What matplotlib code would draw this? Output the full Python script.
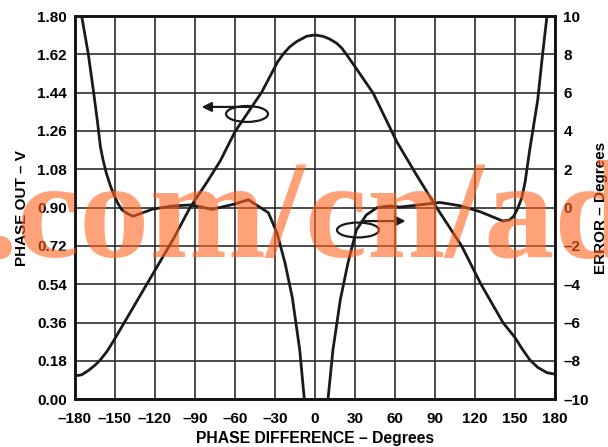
import matplotlib
matplotlib.use('Agg')
import matplotlib.pyplot as plt
from matplotlib.patches import Ellipse

# phase output (left axis, V) vs phase difference (deg)
phase_deg = [-180, -175, -170, -165, -161, -156, -151.5, -136.5, -121.5, -106.5,
             -93.75, -81, -71, -60, -40, -28, -23.75, -19, -13.75, -6.25, 0, 6.25,
             11, 16.25, 20, 23.75, 30, 43.7, 61.3, 75.5, 91.25, 110, 124.5, 141,
             150, 155, 161, 167, 174, 180]
phase_v = [0.11, 0.115, 0.135, 0.16, 0.185, 0.225, 0.27, 0.43, 0.59, 0.75,
           0.90, 1.02, 1.12, 1.257, 1.442, 1.585, 1.622, 1.655, 1.68, 1.705, 1.711, 1.704,
           1.692, 1.672, 1.65, 1.618, 1.562, 1.437, 1.21, 1.06, 0.90, 0.72, 0.54, 0.36,
           0.29, 0.24, 0.186, 0.15, 0.125, 0.118]

# error (right axis, degrees), two branches
err_left_deg = [-178, -175, -170, -166, -163, -161, -159, -156.5, -153.5, -151, -148,
                -145, -141, -136.5, -121.5, -106.5, -94, -86, -77.5, -61.5, -50,
                -35, -28.5, -22.5, -17, -11.5, -8, -7]
err_left = [12, 10, 8.0, 6.0, 4.4, 3.2, 2.5, 1.8, 1.15, 0.7, 0.25,
            -0.1, -0.3, -0.45, -0.07, 0.09, 0.14, 0.05, -0.09, 0.17, 0.41,
            -0.26, -1.32, -2.88, -4.7, -7.4, -10, -11]
err_right_deg = [9, 9.75, 13.5, 19, 24.75, 31, 38.5, 46.5, 56, 63.75, 93.75,
                 108.75, 123.75, 141, 146, 149, 152, 155, 157.5, 161, 164, 167, 171, 174, 176]
err_right = [-11, -10, -7.4, -4.8, -2.88, -1.17, -0.38, 0.0, 0.09, 0.03, 0.27,
             0.1, -0.21, -0.7, -0.64, -0.45, -0.05, 0.5, 1.3, 3.0, 4.3, 5.6, 8.2, 10, 11.3]

x_ticks = list(range(-180, 181, 30))
x_labels = [str(v).replace('-', '\u2013') for v in x_ticks]
v_ticks = [i * 0.18 for i in range(11)]
v_labels = ['%.2f' % v for v in v_ticks]
e_ticks = list(range(-10, 11, 2))
e_labels = [str(v).replace('-', '\u2013') for v in e_ticks]

plt.rcParams['font.family'] = ['Liberation Sans', 'DejaVu Sans']
plt.rcParams['font.weight'] = 'bold'

line_color = '#1a1a1a'
grid_color = '#2e2e2e'

fig = plt.figure(figsize=(6.08, 4.47), dpi=100)
ax = fig.add_axes([75 / 608, (447 - 399.3) / 447, 480 / 608, 383.3 / 447])
ax2 = ax.twinx()

ax.set_xlim(-180, 180)
ax.set_ylim(0, 1.8)
ax2.set_ylim(-10, 10)

ax.set_xticks(x_ticks)
ax.set_xticklabels(x_labels)
ax.set_yticks(v_ticks)
ax.set_yticklabels(v_labels)
ax2.set_yticks(e_ticks)
ax2.set_yticklabels(e_labels)

ax.grid(True, color=grid_color, linewidth=1.2)
ax.set_axisbelow(True)

ax.tick_params(length=0, labelsize=11, pad=6)
ax.tick_params(axis='x', pad=9)
ax2.tick_params(length=0, labelsize=11, pad=6)

for a in (ax, ax2):
    for s in a.spines.values():
        s.set_linewidth(1.8)
        s.set_color('#111111')

ax.plot(phase_deg, phase_v, color=line_color, lw=2.0, zorder=3)
ax2.plot(err_left_deg, err_left, color=line_color, lw=2.0)
ax2.plot(err_right_deg, err_right, color=line_color, lw=2.0)

# pointer ellipses with arrows
ax.add_patch(Ellipse((-51, 1.34), 31.5, 0.075, fill=False, lw=1.6, color=line_color, zorder=4))
ax.annotate('', xy=(-85, 1.373), xytext=(-49, 1.373),
            arrowprops=dict(arrowstyle='-|>', color=line_color, lw=1.6,
                            mutation_scale=14, shrinkA=0, shrinkB=0), zorder=4)
ax.add_patch(Ellipse((32.25, 0.795), 31.5, 0.07, fill=False, lw=1.6, color=line_color, zorder=4))
ax.annotate('', xy=(68, 0.837), xytext=(35, 0.837),
            arrowprops=dict(arrowstyle='-|>', color=line_color, lw=1.6,
                            mutation_scale=14, shrinkA=0, shrinkB=0), zorder=4)

ax.set_xlabel('PHASE DIFFERENCE \u2013 Degrees', fontsize=11.3, fontweight='bold', labelpad=4)
ax.set_ylabel('PHASE OUT \u2013 V', fontsize=11, fontweight='bold', labelpad=6)
ax2.set_ylabel('ERROR \u2013 Degrees', fontsize=11, fontweight='bold', labelpad=4)

# watermark
fig.text(-17 / 608, (447 - 257) / 447, '.com/cn/ad', fontsize=101,
         family='Liberation Serif', fontweight='bold', color='#ff6420', alpha=0.6,
         ha='left', va='baseline', zorder=10)

fig.savefig('out.png', dpi=100)
